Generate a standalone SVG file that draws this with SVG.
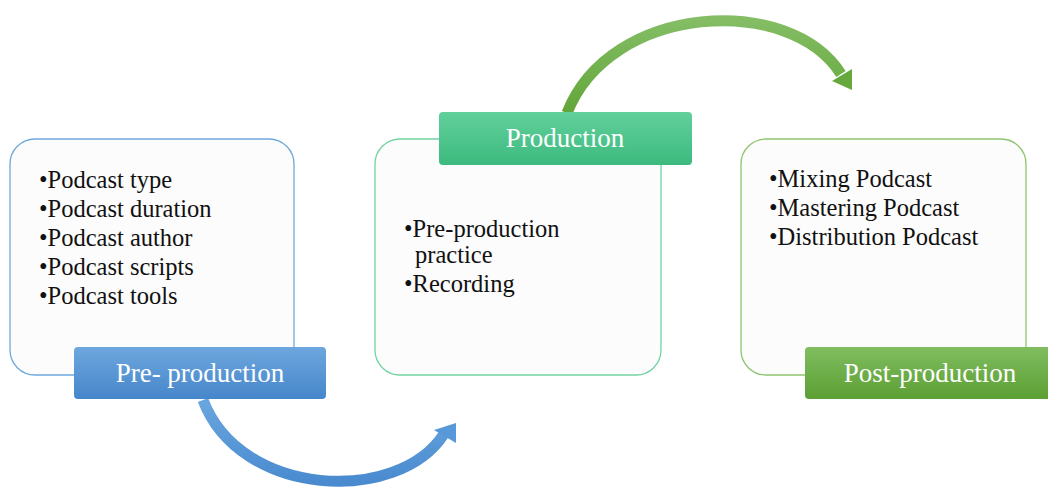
<svg xmlns="http://www.w3.org/2000/svg" width="1048" height="490" viewBox="0 0 1048 490">
<defs>
<linearGradient id="gBlue" x1="0" y1="0" x2="0" y2="1"><stop offset="0" stop-color="#6ea7de"/><stop offset="1" stop-color="#4686cb"/></linearGradient>
<linearGradient id="gTeal" x1="0" y1="0" x2="0" y2="1"><stop offset="0" stop-color="#62d09c"/><stop offset="1" stop-color="#3cba7e"/></linearGradient>
<linearGradient id="gGreen" x1="0" y1="0" x2="0" y2="1"><stop offset="0" stop-color="#80bd60"/><stop offset="1" stop-color="#5c9f33"/></linearGradient>
<linearGradient id="aBlue" x1="0" y1="0" x2="0" y2="1"><stop offset="0" stop-color="#6aa6de"/><stop offset="1" stop-color="#4a8bd0"/></linearGradient>
<linearGradient id="aGreen" x1="0" y1="0" x2="0" y2="1"><stop offset="0" stop-color="#84bd64"/><stop offset="1" stop-color="#62a63a"/></linearGradient>
</defs>
<style>
.box{fill:#fcfcfc;stroke-width:1.3}
.lbl{font-family:"Liberation Serif","Times New Roman",serif;font-size:27px;fill:#ffffff;text-anchor:middle}
.body{font-family:"Liberation Serif","Times New Roman",serif;font-size:24.5px;fill:#111111}
.arc{fill:none;stroke-width:11;stroke-linecap:butt}
</style>
<g id="connectors">
<path class="arc" stroke="url(#aBlue)" d="M 203 400 C 240 498, 398 505, 444 434"/>
<polygon fill="#5799d8" points="456,423 434,430 456,443"/>
<path class="arc" stroke="url(#aGreen)" d="M 567 113 C 610 3, 790 -7, 841 74"/>
<polygon fill="#66a83c" points="852,90 832,81 852,69"/>
</g>
<g id="node-preproduction">
<rect class="box" x="10" y="139" width="284" height="236" rx="25" stroke="#6fa8dc"/>
<text class="body" x="39" y="188">•Podcast type</text>
<text class="body" x="39" y="217">•Podcast duration</text>
<text class="body" x="39" y="246">•Podcast author</text>
<text class="body" x="39" y="275">•Podcast scripts</text>
<text class="body" x="39" y="304">•Podcast tools</text>
<rect x="74" y="347" width="252" height="52" rx="4" fill="url(#gBlue)"/>
<text class="lbl" x="200" y="382">Pre- production</text>
</g>
<g id="node-production">
<rect class="box" x="375" y="139" width="286" height="236" rx="25" stroke="#72d3a4"/>
<text class="body" x="404" y="237">•Pre-production</text>
<text class="body" x="415" y="263">practice</text>
<text class="body" x="404" y="292">•Recording</text>
<rect x="439" y="112" width="253" height="53" rx="4" fill="url(#gTeal)"/>
<text class="lbl" x="565" y="147">Production</text>
</g>
<g id="node-postproduction">
<rect class="box" x="741" y="139" width="285" height="236" rx="25" stroke="#8ec46e"/>
<text class="body" x="769" y="187">•Mixing Podcast</text>
<text class="body" x="769" y="216">•Mastering Podcast</text>
<text class="body" x="769" y="245">•Distribution Podcast</text>
<rect x="805" y="347" width="252" height="52" rx="4" fill="url(#gGreen)"/>
<text class="lbl" x="930" y="382">Post-production</text>
</g>
</svg>
